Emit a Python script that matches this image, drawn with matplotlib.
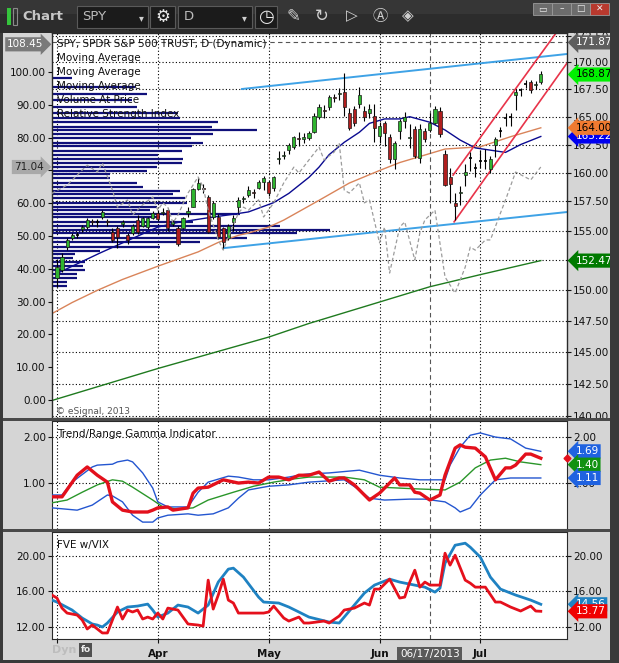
import numpy as np
import matplotlib
matplotlib.use("Agg")
import matplotlib.pyplot as plt
from matplotlib.patches import Rectangle
from matplotlib.ticker import FixedLocator, FormatStrFormatter, FuncFormatter, NullLocator, NullFormatter

plt.rcParams['font.family'] = ['DejaVu Sans']

# ------------------------------------------------------------------ data
month_idx = [0, 20, 42, 64, 84]
month_labels = ['', 'Apr', 'May', 'Jun', 'Jul']
cursor_idx = 74
cursor_date = '06/17/2013'
cursor_price = 171.87
cursor_left = 108.45

opens = [151.0,151.7,153.6,154.4,154.6,155.1,155.3,155.8,155.7,156.2,
         155.8,154.9,155.2,155.6,154.6,154.8,155.9,155.4,155.3,156.1,
         156.5,156.5,156.8,155.6,155.2,155.2,156.5,157.0,158.6,158.7,
         157.9,156.2,156.2,155.2,154.4,155.7,157.0,157.7,158.1,158.3,
         158.7,159.2,159.2,158.7,161.2,161.5,162.0,162.3,163.1,163.0,
         163.1,163.6,165.0,165.6,165.9,166.8,167.1,167.3,165.3,165.7,
         166.2,165.5,165.3,165.1,163.3,164.4,163.2,161.2,163.7,164.6,
         163.1,163.9,161.3,163.7,163.8,164.4,165.5,161.7,159.6,157.4,
         158.2,159.8,161.3,160.4,161.0,161.0,160.3,162.5,163.7,164.9,
         165.0,167.0,167.4,168.0,168.2,167.9,168.2]
highs = [152.6,153.1,154.4,154.8,154.9,155.5,156.1,156.0,156.0,156.8,
         156.0,155.2,155.4,155.9,154.8,155.6,156.3,156.2,156.2,156.7,
         156.8,156.9,156.9,155.9,155.4,156.2,157.0,158.7,159.6,159.0,
         158.1,157.5,156.4,155.3,155.6,156.3,157.9,158.0,158.8,158.6,
         159.4,159.7,159.4,159.7,161.9,161.9,162.6,163.3,163.6,163.5,
         163.7,165.3,166.2,166.1,167.0,167.1,167.6,169.0,165.8,166.0,
         167.7,166.0,166.2,166.2,164.5,164.6,163.4,162.8,164.8,165.4,
         164.3,164.2,164.3,164.0,165.3,166.0,165.9,162.0,160.4,158.2,
         158.8,160.8,161.8,160.9,162.0,162.1,161.5,163.2,164.1,165.3,
         165.3,167.5,167.6,168.4,168.4,168.3,169.2]
lows = [150.3,151.5,153.4,154.2,154.4,154.9,155.1,155.5,155.3,156.0,
        155.4,154.0,153.5,155.3,153.9,154.6,154.7,155.3,155.1,156.0,
        155.8,156.3,155.0,155.4,153.7,155.1,156.2,157.0,158.5,158.2,
        154.8,156.0,154.3,153.5,154.2,155.0,156.5,157.4,157.9,157.8,
        158.6,158.5,158.0,158.4,160.8,161.2,161.7,162.1,162.4,162.6,
        162.9,163.5,164.8,164.9,165.6,166.3,166.5,165.1,163.8,164.2,
        165.8,164.6,164.9,162.7,162.6,162.4,160.9,160.3,163.0,164.0,
        162.2,161.3,160.9,162.7,163.6,164.3,163.2,158.8,157.4,155.9,
        157.2,158.8,160.2,159.6,160.4,160.3,160.0,161.4,163.2,164.2,
        164.2,165.6,166.9,167.6,167.2,167.5,168.0]
closes = [151.9,152.8,154.2,154.6,154.6,155.3,155.9,155.7,155.7,156.6,
          155.7,154.2,154.5,155.7,154.2,155.4,154.9,156.1,156.1,156.5,
          156.0,156.6,155.2,155.7,153.9,156.1,156.7,158.6,159.1,158.6,
          154.9,157.4,154.5,154.0,155.4,156.1,157.6,157.8,158.5,158.2,
          159.2,159.5,158.2,159.6,161.3,161.6,162.5,163.2,163.0,163.2,
          163.5,165.1,165.9,165.5,166.8,166.7,167.2,165.9,164.0,164.4,
          167.0,165.0,165.7,164.0,164.2,163.5,161.2,162.6,164.6,165.0,
          163.2,161.5,163.9,163.0,164.4,165.7,163.4,158.9,159.0,157.1,
          158.3,160.1,161.3,160.4,161.0,161.0,161.2,163.0,163.7,164.9,
          165.0,167.3,167.4,168.0,167.4,168.0,168.87]

ma20_idx = [-1, 0, 8.5, 20, 24, 30, 35, 38, 43, 46, 50, 52, 54, 57, 60, 62, 65, 68, 70, 74, 77, 80, 83, 89, 92, 96]
ma20_val = [151.3, 151.4, 153.1, 155.3, 155.7, 156.1, 156.4, 156.6, 157.4, 158.2, 159.6, 160.5, 161.6,
            162.7, 163.6, 164.4, 164.8, 164.8, 165.0, 164.5, 163.8, 162.9, 162.2, 161.8, 162.5, 163.22]
ma50_idx = [-1, 3, 8, 13, 20, 28, 32, 36, 38, 42, 45, 52, 58, 64, 68, 74, 77, 84, 90, 96]
ma50_val = [148.1, 149.0, 150.0, 150.9, 152.0, 153.2, 154.0, 154.6, 154.8, 155.3, 155.9, 157.6, 159.1,
            160.2, 160.9, 161.7, 162.1, 162.3, 163.2, 164.0]
ma200_idx = [-1, 20, 42, 50, 74, 84, 96]
ma200_val = [141.2, 143.7, 146.2, 147.3, 150.3, 151.3, 152.47]

rsi_idx = [-1, 2, 5, 6, 8, 9, 11, 12, 14, 15, 17, 19, 20, 21, 22, 23, 24, 26, 28, 29, 30, 32, 33, 34, 36, 37,
           38, 40, 41, 43, 45, 47, 48, 50, 52, 53, 55, 56, 57, 58, 60, 61, 62, 64, 65, 66, 68, 69, 71, 72, 73,
           75, 77, 79, 81, 82, 83, 85, 86, 88, 89, 91, 94, 96]
rsi_val = [63.0, 65.5, 70.1, 71.6, 69.5, 72.3, 64.0, 58.8, 61.0, 56.4, 59.5, 61.9, 57.9, 60.1, 58.8, 54.0,
           56.4, 63.1, 68.0, 64.9, 57.9, 48.8, 45.7, 49.7, 57.0, 58.8, 57.9, 61.0, 55.8, 60.1, 66.2, 71.0,
           69.2, 73.2, 77.1, 73.2, 75.6, 78.4, 64.0, 63.1, 66.2, 60.1, 61.0, 47.9, 52.7, 38.7, 52.7, 54.3,
           42.7, 50.9, 54.9, 57.9, 37.5, 32.6, 40.5, 46.6, 45.7, 48.8, 48.8, 57.0, 61.0, 69.5, 67.1, 71.04]

vap_price = [168.54,167.71,167.07,166.52,165.88,165.33,164.88,164.52,164.07,163.80,
             163.44,163.08,162.63,162.36,161.92,161.56,161.21,160.86,160.50,160.15,
             159.89,159.54,159.10,158.75,158.40,158.14,157.80,157.36,157.02,156.76,
             156.42,156.16,155.74,155.40,155.06,154.80,154.38,154.04,153.62,153.29,
             153.03,152.70,152.37,152.03,151.70,151.37,151.04,150.71,150.38]
vap_volume = [20,83,95,80,85,126,128,166,160,205,161,139,151,140,130,106,131,130,105,95,
              58,58,85,91,128,121,133,135,105,98,188,108,141,228,278,245,195,148,108,48,
              23,21,33,31,33,25,25,15,15]

trend_up_idx = [36.7, 101.2]
trend_up_val = [167.53, 170.78]
trend_lo_idx = [33.1, 101.2]
trend_lo_val = [153.52, 156.59]
chan_lo_idx = [78.8, 101.2]
chan_lo_val = [155.75, 169.93]
chan_up_idx = [78.6, 101.2]
chan_up_val = [159.8, 174.2]

g_red_idx = [-1, 1, 4, 6, 8, 10, 11, 13, 15, 18, 19, 20, 22, 23, 26, 27, 28, 30, 33, 36, 38, 40, 42, 44, 46,
             48, 50, 52, 54, 56, 57, 59, 62, 64, 65, 67, 68, 70, 71, 72, 74, 76, 77, 79, 80, 81, 83, 85, 87,
             89, 90, 91, 93, 94, 96]
g_red_val = [0.70, 0.70, 1.17, 1.35, 1.17, 1.02, 0.59, 0.41, 0.37, 0.37, 0.41, 0.46, 0.48, 0.41, 0.46,
             0.78, 0.89, 0.91, 1.07, 1.00, 1.02, 1.00, 1.13, 1.13, 1.07, 1.17, 1.17, 1.24, 1.04, 1.11,
             1.11, 0.96, 0.63, 0.78, 0.89, 1.11, 0.96, 0.96, 0.80, 0.78, 0.63, 0.74, 1.17, 1.76, 1.83,
             1.78, 1.76, 1.57, 1.07, 1.33, 1.33, 1.39, 1.63, 1.63, 1.54]
g_up_idx = [-1, 1, 3, 7, 8, 11, 12, 14, 15, 17, 19, 20, 22, 26, 28, 30, 34, 36, 39, 42, 46, 48, 50, 54,
            60, 64, 68, 72, 77, 78, 80, 82, 84, 87, 90, 93, 96]
g_up_val = [0.74, 0.74, 1.02, 1.35, 1.39, 1.41, 1.46, 1.50, 1.46, 1.22, 0.89, 0.59, 0.48, 0.48, 0.80,
            1.02, 1.15, 1.13, 1.07, 1.07, 1.13, 1.17, 1.20, 1.22, 1.28, 1.17, 1.11, 1.07, 1.07, 1.39,
            1.78, 2.04, 2.09, 2.00, 1.96, 1.76, 1.69]
g_lo_idx = [-1, 4, 7, 10, 11, 13, 15, 17, 19, 20, 22, 26, 28, 31, 34, 36, 38, 42, 46, 50, 57, 60, 62, 65,
            70, 73, 77, 79, 80, 82, 84, 87, 90, 93, 96]
g_lo_val = [0.46, 0.41, 0.52, 0.74, 0.72, 0.59, 0.30, 0.15, 0.15, 0.24, 0.30, 0.33, 0.30, 0.33, 0.46,
            0.67, 0.85, 0.93, 0.96, 1.02, 1.07, 0.85, 0.67, 0.63, 0.65, 0.65, 0.59, 0.46, 0.37, 0.46,
            0.74, 1.07, 1.11, 1.11, 1.11]
g_mid_idx = [-1, 2, 5, 8, 11, 13, 15, 19, 21, 24, 27, 30, 35, 39, 43, 47, 50, 57, 61, 64, 68, 72, 77, 80,
             83, 86, 89, 92, 96]
g_mid_val = [0.57, 0.63, 0.80, 0.96, 1.07, 1.04, 0.91, 0.63, 0.48, 0.43, 0.46, 0.63, 0.80, 0.93, 1.02,
             1.09, 1.13, 1.13, 1.07, 0.91, 0.89, 0.87, 0.85, 1.02, 1.33, 1.50, 1.54, 1.46, 1.40]

fve_blue_idx = [-1, 0, 3, 5, 7, 8, 9, 10, 12, 14, 16, 18, 19, 20, 22, 24, 26, 28, 30, 32, 34, 35, 37, 40,
                41, 44, 46, 48, 50, 54, 56, 59, 61, 63, 66, 68, 70, 73, 75, 76, 77, 79, 81, 82, 84, 86,
                88, 91, 94, 96]
fve_blue_val = [15.03, 14.81, 13.91, 13.01, 12.34, 12.22, 12.00, 12.45, 13.69, 14.25, 14.36, 14.58,
                13.91, 13.12, 13.57, 14.47, 14.25, 13.57, 14.47, 17.06, 18.52, 18.63, 17.62, 15.37,
                14.81, 14.70, 14.25, 13.69, 13.12, 12.56, 12.45, 14.47, 15.82, 16.72, 17.39, 17.06,
                16.83, 16.49, 15.93, 16.38, 19.19, 21.21, 21.44, 20.99, 19.87, 17.62, 16.27, 15.60,
                15.03, 14.56]
fve_red_idx = [-1, 0, 1, 2, 4, 5, 6, 7, 8, 9, 10, 11, 12, 13, 14, 15, 16, 17, 18, 19, 20, 21, 22, 23, 24,
               25, 26, 28, 29, 30, 31, 32, 33, 34, 35, 36, 38, 41, 42, 43, 45, 46, 48, 49, 50, 53, 54, 56,
               57, 59, 61, 62, 63, 64, 66, 68, 69, 70, 71, 72, 73, 74, 76, 77, 78, 79, 81, 82, 83, 85,
               87, 88, 90, 92, 94, 95, 96]
fve_red_val = [15.60, 15.26, 14.13, 13.57, 13.35, 12.79, 11.78, 12.22, 11.78, 11.33, 11.33, 12.79,
               14.25, 12.90, 13.91, 13.69, 13.91, 12.90, 13.12, 12.90, 13.57, 12.90, 14.13, 14.02,
               13.91, 13.12, 12.34, 12.22, 12.11, 17.28, 14.02, 15.60, 17.39, 15.03, 14.70, 13.57,
               13.57, 13.57, 13.69, 14.36, 13.01, 12.67, 13.12, 12.45, 12.45, 12.67, 12.45, 13.24,
               13.91, 14.13, 14.70, 14.47, 16.27, 16.27, 17.39, 15.26, 15.37, 17.06, 18.40, 16.49,
               17.06, 16.72, 16.72, 20.31, 18.97, 20.09, 17.28, 16.94, 16.49, 16.49, 14.81, 14.81,
               14.25, 13.80, 14.36, 13.80, 13.77]

# tick labels that the value tags cover in the original
hidden_price_labels = [152.5]
hidden_rsi_labels = [70]

# ------------------------------------------------------------------ figure / layout
W, H = 619, 663
fig = plt.figure(figsize=(W / 100, H / 100), dpi=100)
fig.patch.set_facecolor('#d5d5d5')


def axrect(x0, y0, x1, y1):
    return [x0 / W, 1 - y1 / H, (x1 - x0) / W, (y1 - y0) / H]


def frect(x0, y0, x1, y1, fc, ec='none', lw=0.0, z=5):
    fig.patches.append(Rectangle((x0 / W, 1 - y1 / H), (x1 - x0) / W, (y1 - y0) / H,
                                 transform=fig.transFigure, fc=fc, ec=ec, lw=lw, zorder=z))


def ftext(x, y, s, **kw):
    kw.setdefault('va', 'center')
    kw.setdefault('zorder', 6)
    fig.text(x / W, 1 - y / H, s, **kw)


def fmt_hiding(hidden):
    def f(v, pos):
        if any(abs(v - hv) < 1e-6 for hv in hidden):
            return ''
        return '%.2f' % v
    return FuncFormatter(f)


ax = fig.add_axes(axrect(52, 33, 567, 418))
axr = ax.twinx()
axg = fig.add_axes(axrect(52, 421, 567, 529))
axf = fig.add_axes(axrect(52, 532, 567, 639))

XL = (-0.99, 101.2)
FS = 7.5
grid_kw = dict(color='black', linestyle=(0, (1, 2)), linewidth=0.8)

# ---------------- main panel (price, log scale on the right)
ax.set_yscale('log')
ax.set_xlim(*XL)
ax.set_ylim(139.85, 172.76)
ax.yaxis.set_major_locator(FixedLocator(np.arange(140, 173, 2.5)))
ax.yaxis.set_major_formatter(fmt_hiding(hidden_price_labels))
ax.yaxis.set_minor_locator(NullLocator())
ax.yaxis.set_minor_formatter(NullFormatter())
ax.set_xticks(month_idx)
ax.tick_params(axis='x', bottom=False, labelbottom=False)
ax.tick_params(axis='y', which='both', left=False, labelleft=False, right=True, labelright=True,
               labelsize=FS, length=3, pad=1.5, colors='#111111')
ax.grid(True, **grid_kw)
ax.set_axisbelow(True)
for s in ax.spines.values():
    s.set_color('#2a2a2a')
    s.set_linewidth(1)

# volume at price
vap_bar_per_unit = 1 / 5.04
ax.hlines(vap_price, XL[0], XL[0] + np.array(vap_volume) * vap_bar_per_unit,
          color='#10107a', lw=1.6, zorder=1.5)

# moving averages
ax.plot(ma200_idx, ma200_val, color='#1f7a1f', lw=1.0, zorder=2)
ax.plot(ma50_idx, ma50_val, color='#d9845a', lw=1.0, zorder=2)
ax.plot(ma20_idx, ma20_val, color='#0a0a90', lw=1.0, zorder=2)

# trendlines
ax.plot(trend_up_idx, trend_up_val, color='#3ea2e6', lw=1.4, zorder=2.5)
ax.plot(trend_lo_idx, trend_lo_val, color='#3ea2e6', lw=1.4, zorder=2.5)
ax.plot(chan_lo_idx, chan_lo_val, color='#e8344a', lw=1.2, zorder=2.5)
ax.plot(chan_up_idx, chan_up_val, color='#e8344a', lw=1.2, zorder=2.5)

# candles
x = np.arange(len(closes))
o = np.array(opens); c = np.array(closes); h = np.array(highs); l = np.array(lows)
ax.vlines(x, l, h, color='black', lw=0.8, zorder=3)
bw = 0.62
for i in range(len(x)):
    if abs(c[i] - o[i]) < 0.08:
        ax.hlines(c[i], i - bw / 2, i + bw / 2, color='black', lw=1.2, zorder=4)
    else:
        col = '#2fb52f' if c[i] > o[i] else '#b01e1e'
        ax.bar(i, abs(c[i] - o[i]), bottom=min(o[i], c[i]), width=bw, color=col,
               edgecolor='#1a1a1a', linewidth=0.5, zorder=4)

# cursor lines
ax.axhline(cursor_price, color='#555555', lw=0.8, linestyle=(0, (4, 3)), zorder=2)
for a in (ax, axg, axf):
    a.axvline(cursor_idx, color='#555555', lw=0.8, linestyle=(0, (4, 3)), zorder=2)

# ---------------- RSI on left scale
axr.set_ylim(-5.49, 111.9)
axr.yaxis.set_major_locator(FixedLocator(np.arange(0, 101, 10)))
axr.yaxis.set_major_formatter(fmt_hiding(hidden_rsi_labels))
axr.tick_params(axis='y', left=True, labelleft=True, right=False, labelright=False,
                labelsize=FS, length=3, pad=1.5, colors='#111111')
for s in axr.spines.values():
    s.set_visible(False)
axr.plot(rsi_idx, rsi_val, color='#9c9c9c', lw=0.9, linestyle=(0, (3, 2)), zorder=2)

legend_lines = ['SPY, SPDR S&P 500 TRUST, D (Dynamic)', 'Moving Average', 'Moving Average',
                'Moving Average', 'Volume At Price', 'Relative Strength Index']
for k, s in enumerate(legend_lines):
    axr.text(5 / 515, 1 - (11 + 14 * k) / 385, s, transform=axr.transAxes, fontsize=FS,
             color='#111111', va='center', ha='left', zorder=6)
axr.text(4 / 515, 7 / 385, '\u00a9 eSignal, 2013', transform=axr.transAxes, fontsize=6.5,
         color='#555555', va='center', ha='left')


def rtag(a, val, text, fc, tc):
    a.annotate(text, xy=(1, val), xycoords=a.get_yaxis_transform(), xytext=(6, 0),
               textcoords='offset points', ha='left', va='center', fontsize=FS, color=tc,
               bbox=dict(boxstyle='larrow,pad=0.2', fc=fc, ec='none'),
               annotation_clip=False, zorder=10)


def ltag(a, val, text, fc, tc):
    a.annotate(text, xy=(0, val), xycoords=a.get_yaxis_transform(), xytext=(-6, 0),
               textcoords='offset points', ha='right', va='center', fontsize=FS, color=tc,
               bbox=dict(boxstyle='rarrow,pad=0.2', fc=fc, ec='none'),
               annotation_clip=False, zorder=10)


rtag(ax, cursor_price, '171.87', '#5e5e5e', 'white')
rtag(ax, closes[-1], '%.2f' % closes[-1], '#00f000', 'black')
rtag(ax, ma20_val[-1], '%.2f' % ma20_val[-1], '#0000f0', 'white')
rtag(ax, ma50_val[-1], '%.2f' % ma50_val[-1], '#f07a30', 'black')
rtag(ax, ma200_val[-1], '%.2f' % ma200_val[-1], '#007a00', 'white')
ltag(axr, cursor_left, '108.45', '#7a7a7a', 'white')
ltag(axr, rsi_val[-1], '%.2f' % rsi_val[-1], '#a9a9a9', '#222222')

# ---------------- gamma panel
axg.set_xlim(*XL)
axg.set_ylim(0.0, 2.35)
axg.set_yticks([1.0, 2.0])
axg.yaxis.set_major_formatter(FormatStrFormatter('%.2f'))
axg.set_xticks(month_idx)
axg.tick_params(axis='x', bottom=False, labelbottom=False)
axg.tick_params(axis='y', labelsize=FS, length=3, pad=1.5, left=True, right=True,
                labelleft=True, labelright=True, colors='#111111')
axg.grid(True, **grid_kw)
axg.set_axisbelow(True)
for s in axg.spines.values():
    s.set_color('#2a2a2a')
axg.plot(g_up_idx, g_up_val, color='#2456d0', lw=1.0, zorder=3)
axg.plot(g_lo_idx, g_lo_val, color='#2456d0', lw=1.0, zorder=3)
axg.plot(g_mid_idx, g_mid_val, color='#2a962a', lw=1.0, zorder=3)
axg.plot(g_red_idx, g_red_val, color='#e3101c', lw=2.4, zorder=4, solid_joinstyle='round')
axg.text(5 / 515, 0.88, 'Trend/Range Gamma Indicator', transform=axg.transAxes, fontsize=FS,
         color='#111111', va='center')
axg.plot([1.0], [g_red_val[-1]], marker='D', ms=3.5, color='#e3101c',
         transform=axg.get_yaxis_transform(), clip_on=False, zorder=9)
rtag(axg, g_up_val[-1], '%.2f' % g_up_val[-1], '#1f62e0', 'white')
rtag(axg, g_mid_val[-1], '%.2f' % g_mid_val[-1], '#119111', 'white')
rtag(axg, g_lo_val[-1], '%.2f' % g_lo_val[-1], '#1f62e0', 'white')

# ---------------- FVE panel
axf.set_xlim(*XL)
axf.set_ylim(10.65, 22.7)
axf.set_yticks([12, 16, 20])
axf.yaxis.set_major_formatter(FormatStrFormatter('%.2f'))
axf.set_xticks(month_idx)
axf.set_xticklabels(month_labels, fontweight='bold', fontsize=FS)
axf.tick_params(axis='x', length=3, pad=4, colors='#111111')
axf.tick_params(axis='y', labelsize=FS, length=3, pad=1.5, left=True, right=True,
                labelleft=True, labelright=True, colors='#111111')
axf.grid(True, **grid_kw)
axf.set_axisbelow(True)
for s in axf.spines.values():
    s.set_color('#2a2a2a')
axf.plot(fve_blue_idx, fve_blue_val, color='#1f82c2', lw=2.0, zorder=3)
axf.plot(fve_red_idx, fve_red_val, color='#e5101c', lw=2.0, zorder=4)
axf.text(5 / 515, 0.88, 'FVE w/VIX', transform=axf.transAxes, fontsize=FS, color='#111111',
         va='center')
rtag(axf, fve_blue_val[-1], '%.2f' % fve_blue_val[-1], '#1f82c2', 'white')
rtag(axf, fve_red_val[-1], '%.2f' % fve_red_val[-1], '#f00000', 'white')
axf.annotate(cursor_date, xy=(cursor_idx, 0), xycoords=axf.get_xaxis_transform(),
             xytext=(0, -11), textcoords='offset points', ha='center', va='center',
             fontsize=FS, color='white', bbox=dict(boxstyle='square,pad=0.25', fc='#5a5a5a', ec='none'),
             annotation_clip=False, zorder=10)

# ------------------------------------------------------------------ window chrome
frect(0, 0, 619, 33, '#2c2c2c', z=5)
frect(0, 0, 619, 14, '#363636', z=5)
frect(610, 0, 619, 663, '#3a3a3a', z=5)
frect(0, 33, 3, 663, '#3a3a3a', z=5)
frect(0, 660, 619, 663, '#3a3a3a', z=5)
frect(3, 418, 610, 421, '#4a4a4a', z=5)
frect(3, 529, 610, 532, '#4a4a4a', z=5)

frect(7, 8, 11, 25, '#35c43c', z=6)
frect(13, 8, 17, 25, 'none', ec='#8a8a8a', lw=0.8, z=6)
ftext(22, 16, 'Chart', color='#c6c6c6', fontsize=9.5, fontweight='bold')

for (x0, x1) in [(77, 148), (150, 175), (178, 252), (255, 277)]:
    frect(x0, 6, x1, 28, '#1b1b1b', ec='#5a5a5a', lw=0.8, z=6)
ftext(82, 17, 'SPY', color='#bcbcbc', fontsize=9.5)
ftext(141, 18, '\u25be', color='#cfcfcf', fontsize=7, ha='center')
ftext(162.5, 17, '\u2699', color='#e8e8e8', fontsize=12, ha='center')
ftext(184, 17, 'D', color='#bcbcbc', fontsize=9.5)
ftext(244, 18, '\u25be', color='#cfcfcf', fontsize=7, ha='center')
ftext(266, 17, '\u25f7', color='#e8e8e8', fontsize=13, ha='center')
ftext(293, 16, '\u270e', color='#d0d0d0', fontsize=12, ha='center')
ftext(322, 16, '\u21bb', color='#d0d0d0', fontsize=12, ha='center')
ftext(352, 16, '\u25b7', color='#d0d0d0', fontsize=11, ha='center')
ftext(380, 16, '\u24b6', color='#d0d0d0', fontsize=11, ha='center',
      family=['Noto Sans CJK JP', 'DejaVu Sans'])
ftext(408, 16, '\u25c8', color='#d0d0d0', fontsize=11, ha='center')

for (x0, x1, fc, g) in [(533, 552, '#6c6c6c', '\u25ad'), (552, 571, '#6c6c6c', '\u2013'),
                        (571, 590, '#6c6c6c', '\u25a1'), (590, 609, '#b8392e', '\u2715')]:
    frect(x0, 3, x1, 15, fc, ec='#9a9a9a', lw=0.6, z=6)
    ftext((x0 + x1) / 2, 9, g, color='#eeeeee', fontsize=6.5, ha='center', zorder=7)

ftext(52, 650, 'Dyn', color='#bdbdbd', fontsize=8, fontweight='bold')
frect(79, 643, 92, 657, '#505050', z=6)
ftext(85.5, 650, 'fo', color='#eeeeee', fontsize=6.5, ha='center', fontweight='bold', zorder=7)

fig.savefig('out.png', dpi=100, facecolor=fig.get_facecolor())
